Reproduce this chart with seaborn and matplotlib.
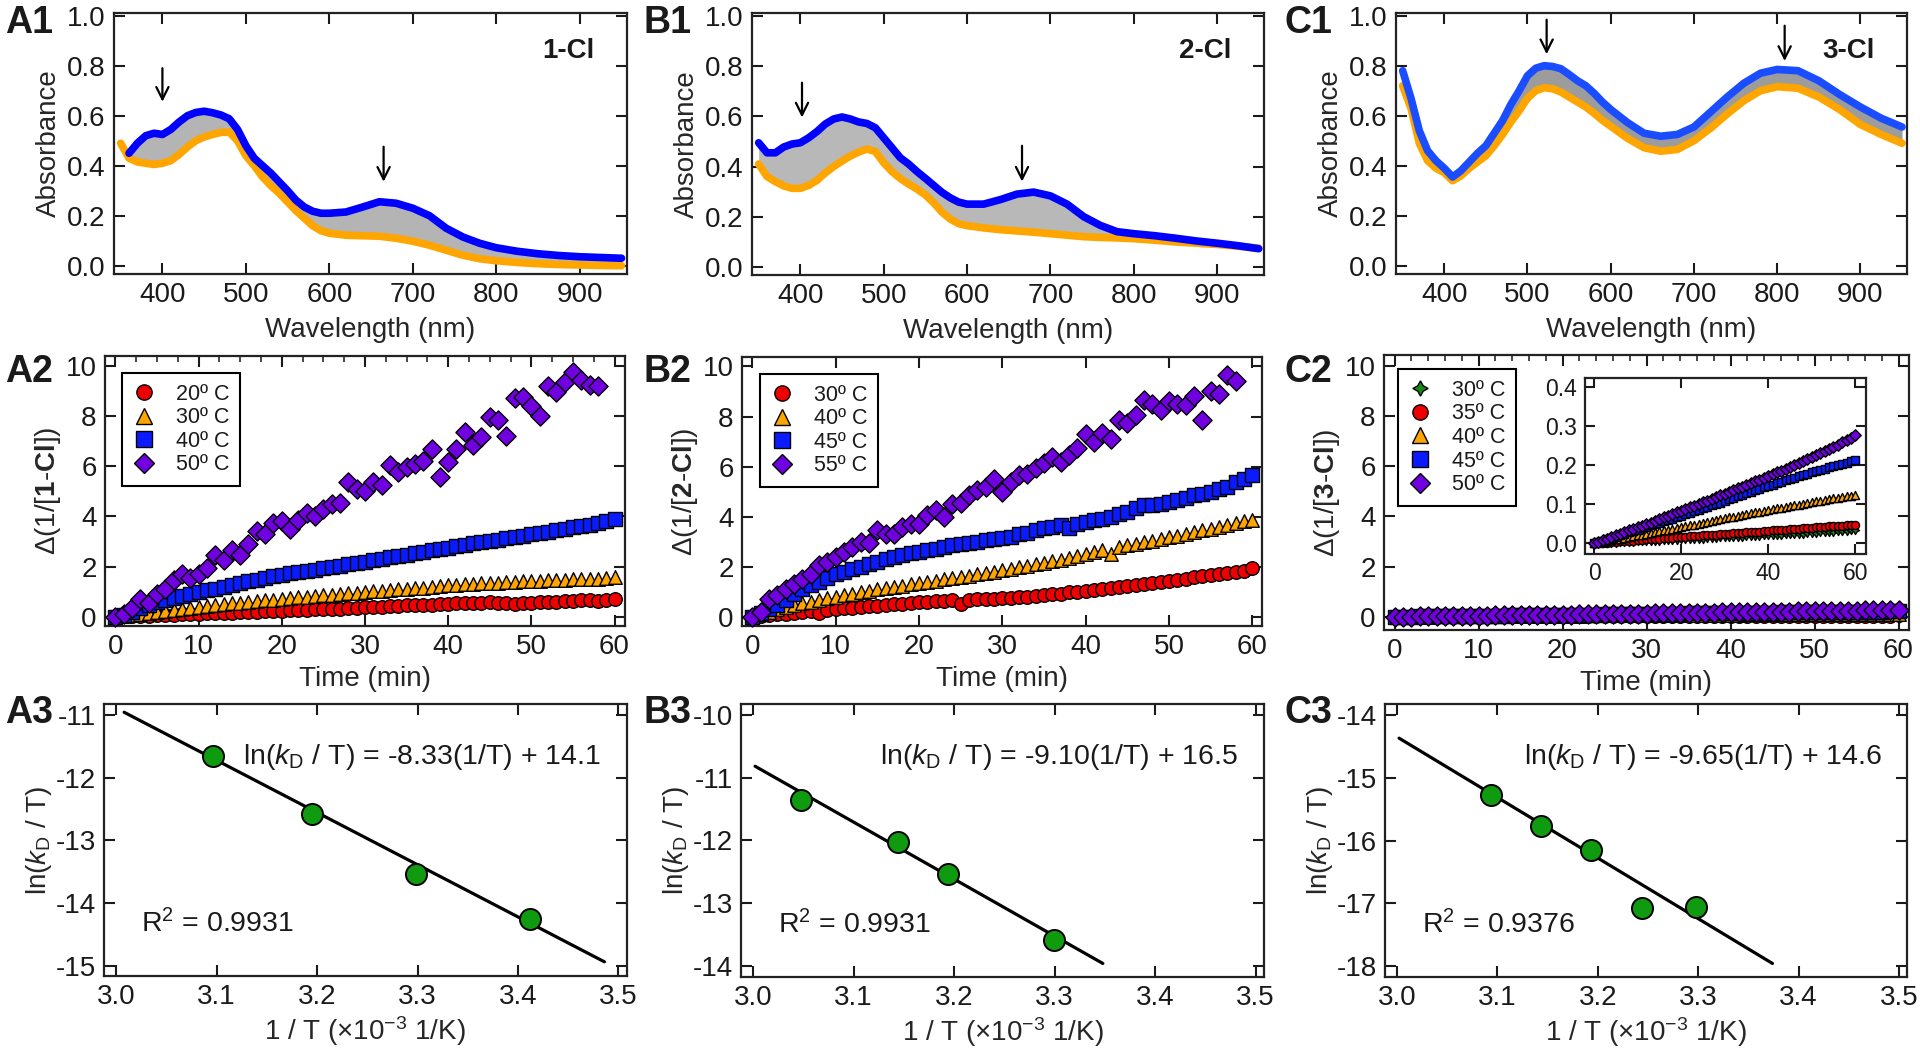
import numpy as np
import pandas as pd
import matplotlib
matplotlib.use('Agg')
import matplotlib.pyplot as plt
import seaborn as sns
from matplotlib.lines import Line2D
from matplotlib.ticker import MultipleLocator, FormatStrFormatter

sns.set_theme(style='ticks')
plt.rcParams['font.family'] = ['Liberation Sans', 'DejaVu Sans']
plt.rcParams['mathtext.fontset'] = 'custom'
plt.rcParams['mathtext.rm'] = 'Liberation Sans'
plt.rcParams['mathtext.it'] = 'Liberation Sans:italic'
plt.rcParams['mathtext.bf'] = 'Liberation Sans:bold'
plt.rcParams['axes.unicode_minus'] = False
plt.rcParams['text.color'] = '#1a1a1a'

# ---------------- UV-vis spectra (row 1) ----------------
wavelength = [350, 360, 370, 380, 390, 400, 410, 420, 430, 440, 450, 460, 470, 480, 490,
              500, 510, 520, 530, 540, 550, 560, 570, 580, 590, 600, 620, 640, 660, 680,
              700, 720, 740, 760, 780, 800, 825, 850, 875, 900, 925, 950]

a1_start = [np.nan, 0.45, 0.49, 0.52, 0.53, 0.525, 0.545, 0.575, 0.60, 0.613, 0.618, 0.612, 0.603, 0.588, 0.545,
            0.48, 0.43, 0.40, 0.37, 0.335, 0.30, 0.262, 0.235, 0.218, 0.21, 0.21, 0.215, 0.235, 0.256, 0.25,
            0.23, 0.20, 0.15, 0.115, 0.09, 0.072, 0.058, 0.048, 0.041, 0.036, 0.033, 0.03]
a1_end = [0.49, 0.43, 0.415, 0.41, 0.405, 0.41, 0.42, 0.445, 0.475, 0.50, 0.515, 0.525, 0.533, 0.535, 0.50,
          0.44, 0.40, 0.355, 0.32, 0.29, 0.255, 0.22, 0.19, 0.16, 0.14, 0.13, 0.122, 0.12, 0.118, 0.11,
          0.098, 0.082, 0.062, 0.042, 0.028, 0.02, 0.013, 0.008, 0.005, 0.003, 0.001, 0.0]

b1_start = [0.495, 0.455, 0.455, 0.478, 0.49, 0.495, 0.515, 0.54, 0.57, 0.59, 0.598, 0.59, 0.578, 0.572, 0.555,
            0.515, 0.475, 0.435, 0.41, 0.38, 0.353, 0.325, 0.297, 0.275, 0.258, 0.25, 0.25, 0.268, 0.29, 0.298,
            0.283, 0.25, 0.20, 0.165, 0.14, 0.132, 0.124, 0.114, 0.103, 0.094, 0.084, 0.072]
b1_end = [0.41, 0.36, 0.34, 0.323, 0.313, 0.313, 0.325, 0.345, 0.375, 0.40, 0.422, 0.442, 0.458, 0.47, 0.46,
          0.415, 0.38, 0.352, 0.33, 0.31, 0.287, 0.255, 0.218, 0.19, 0.172, 0.164, 0.155, 0.148, 0.143, 0.138,
          0.132, 0.126, 0.12, 0.117, 0.115, 0.112, 0.106, 0.099, 0.094, 0.089, 0.082, 0.074]

c1_start = [0.78, 0.67, 0.54, 0.46, 0.42, 0.39, 0.355, 0.38, 0.415, 0.45, 0.48, 0.53, 0.58, 0.645, 0.70,
            0.76, 0.79, 0.80, 0.797, 0.788, 0.765, 0.74, 0.72, 0.69, 0.655, 0.625, 0.573, 0.53, 0.518, 0.525,
            0.555, 0.615, 0.675, 0.73, 0.77, 0.785, 0.78, 0.74, 0.685, 0.635, 0.59, 0.555]
c1_end = [0.72, 0.63, 0.49, 0.42, 0.39, 0.372, 0.34, 0.36, 0.39, 0.415, 0.44, 0.48, 0.525, 0.575, 0.62,
          0.67, 0.70, 0.712, 0.708, 0.695, 0.675, 0.655, 0.635, 0.61, 0.582, 0.558, 0.51, 0.472, 0.458, 0.465,
          0.50, 0.55, 0.607, 0.66, 0.70, 0.716, 0.71, 0.675, 0.625, 0.565, 0.525, 0.49]

# arrows: (wavelength, from absorbance, to absorbance)
a1_arrows = [(400, 0.79, 0.656), (665, 0.476, 0.336)]
b1_arrows = [(402, 0.735, 0.596), (666, 0.483, 0.34)]
c1_arrows = [(523, 0.984, 0.846), (809, 0.96, 0.819)]

# ---------------- second-order kinetics (row 2) ----------------
time_min = list(range(61))

a2_labels = ['20\u00ba C', '30\u00ba C', '40\u00ba C', '50\u00ba C']
a2_20 = [0.00, 0.01, 0.02, 0.03, 0.03, 0.05, 0.06, 0.08, 0.09, 0.10, 0.12, 0.13, 0.14, 0.15, 0.16, 0.18, 0.19, 0.20, 0.21, 0.23,
         0.24, 0.25, 0.26, 0.27, 0.29, 0.30, 0.31, 0.30, 0.34, 0.36, 0.38, 0.39, 0.40, 0.42, 0.43, 0.45, 0.46, 0.47, 0.48, 0.50,
         0.51, 0.53, 0.54, 0.55, 0.56, 0.57, 0.55, 0.53, 0.50, 0.54, 0.55, 0.57, 0.58, 0.60, 0.62, 0.64, 0.66, 0.67, 0.64, 0.68,
         0.70]
a2_30 = [0.00, 0.04, 0.08, 0.12, 0.16, 0.20, 0.24, 0.28, 0.32, 0.36, 0.40, 0.43, 0.47, 0.50, 0.53, 0.56, 0.59, 0.62, 0.65, 0.68,
         0.72, 0.74, 0.77, 0.80, 0.82, 0.85, 0.88, 0.90, 0.93, 0.96, 0.99, 1.01, 1.04, 1.06, 1.09, 1.11, 1.14, 1.16, 1.19, 1.22,
         1.25, 1.27, 1.29, 1.31, 1.33, 1.34, 1.36, 1.38, 1.40, 1.41, 1.43, 1.44, 1.45, 1.47, 1.48, 1.49, 1.50, 1.51, 1.52, 1.54,
         1.58]
a2_40 = [0.00, 0.08, 0.20, 0.33, 0.46, 0.58, 0.66, 0.74, 0.82, 0.90, 0.98, 1.05, 1.12, 1.20, 1.27, 1.35, 1.42, 1.48, 1.55, 1.62,
         1.68, 1.73, 1.78, 1.83, 1.88, 1.93, 1.98, 2.03, 2.09, 2.14, 2.20, 2.26, 2.32, 2.37, 2.42, 2.47, 2.53, 2.58, 2.64, 2.69,
         2.75, 2.81, 2.87, 2.92, 2.97, 3.02, 3.07, 3.13, 3.18, 3.23, 3.29, 3.34, 3.39, 3.45, 3.50, 3.56, 3.62, 3.67, 3.73, 3.82,
         3.88]
a2_50 = [0.00, 0.10, 0.35, 0.70, 0.55, 0.90, 1.10, 1.45, 1.70, 1.55, 1.70, 1.95, 2.45, 2.25, 2.65, 2.45, 2.90, 3.40, 3.30, 3.75,
         3.80, 3.50, 3.85, 4.15, 4.00, 4.30, 4.50, 4.55, 5.35, 5.10, 5.00, 5.35, 5.25, 6.05, 5.75, 5.95, 6.10, 6.20, 6.70, 5.55,
         6.15, 6.70, 7.35, 6.85, 7.15, 7.95, 7.85, 7.20, 8.70, 8.75, 8.40, 8.00, 9.20, 8.95, 9.35, 9.75, 9.45, 9.25, 9.20]

b2_labels = ['30\u00ba C', '40\u00ba C', '45\u00ba C', '55\u00ba C']
b2_30 = [0.00, 0.03, 0.06, 0.09, 0.12, 0.15, 0.18, 0.21, 0.16, 0.26, 0.30, 0.33, 0.36, 0.38, 0.41, 0.44, 0.47, 0.50, 0.52, 0.55,
         0.58, 0.60, 0.62, 0.64, 0.66, 0.50, 0.68, 0.70, 0.71, 0.72, 0.74, 0.76, 0.78, 0.80, 0.83, 0.86, 0.89, 0.92, 0.97, 0.99,
         1.03, 1.07, 1.11, 1.15, 1.19, 1.23, 1.27, 1.31, 1.35, 1.39, 1.43, 1.48, 1.52, 1.57, 1.62, 1.67, 1.72, 1.76, 1.80, 1.84,
         1.93]
b2_40 = [0.00, 0.10, 0.20, 0.30, 0.38, 0.46, 0.53, 0.60, 0.67, 0.73, 0.80, 0.86, 0.92, 0.98, 1.04, 1.09, 1.14, 1.19, 1.24, 1.29,
         1.34, 1.39, 1.44, 1.49, 1.54, 1.59, 1.64, 1.70, 1.75, 1.80, 1.86, 1.92, 1.98, 2.04, 2.10, 2.16, 2.22, 2.28, 2.34, 2.42,
         2.52, 2.60, 2.68, 2.52, 2.80, 2.86, 2.92, 2.98, 3.04, 3.10, 3.17, 3.24, 3.31, 3.38, 3.45, 3.52, 3.59, 3.66, 3.73, 3.82,
         3.88]
b2_45 = [0.00, 0.15, 0.30, 0.45, 0.65, 0.90, 1.10, 1.25, 1.40, 1.55, 1.70, 1.80, 1.90, 2.00, 2.10, 2.20, 2.30, 2.40, 2.45, 2.55,
         2.60, 2.65, 2.72, 2.80, 2.85, 2.90, 2.95, 3.00, 3.05, 3.10, 3.15, 3.20, 3.30, 3.35, 3.45, 3.55, 3.60, 3.65, 3.55, 3.70,
         3.80, 3.85, 3.90, 4.00, 4.10, 4.20, 4.35, 4.45, 4.45, 4.50, 4.60, 4.65, 4.75, 4.85, 4.90, 5.00, 5.10, 5.20, 5.40, 5.50,
         5.65]
b2_55 = [0.00, 0.20, 0.70, 0.85, 1.10, 1.30, 1.50, 1.70, 2.05, 2.20, 2.40, 2.60, 2.80, 3.00, 2.95, 3.45, 3.30, 3.30, 3.60, 3.70,
         3.70, 4.05, 4.25, 4.00, 4.50, 4.55, 4.85, 5.05, 5.20, 5.50, 5.00, 5.40, 5.65, 5.70, 5.95, 6.15, 6.40, 6.20, 6.45, 6.75,
         7.30, 7.00, 7.35, 7.10, 7.85, 7.75, 8.05, 8.65, 8.50, 8.25, 8.60, 8.50, 8.45, 8.80, 7.85, 9.00, 8.90, 9.65, 9.40]

c2_labels = ['30\u00ba C', '35\u00ba C', '40\u00ba C', '45\u00ba C', '50\u00ba C']
c2_30 = [0.000, 0.000, 0.001, 0.001, 0.002, 0.002, 0.003, 0.003, 0.004, 0.004, 0.005, 0.005, 0.006, 0.006, 0.007, 0.007,
         0.008, 0.008, 0.009, 0.009, 0.010, 0.010, 0.011, 0.011, 0.012, 0.012, 0.013, 0.013, 0.014, 0.015, 0.015, 0.016,
         0.016, 0.017, 0.017, 0.018, 0.018, 0.019, 0.019, 0.020, 0.020, 0.021, 0.021, 0.022, 0.023, 0.023, 0.024, 0.024,
         0.025, 0.026, 0.026, 0.027, 0.028, 0.028, 0.029, 0.030, 0.031, 0.031, 0.032, 0.033, 0.034]
c2_35 = [0.000, 0.001, 0.002, 0.002, 0.003, 0.004, 0.005, 0.006, 0.006, 0.007, 0.008, 0.009, 0.010, 0.010, 0.011, 0.012,
         0.013, 0.014, 0.014, 0.015, 0.016, 0.017, 0.018, 0.018, 0.019, 0.020, 0.021, 0.022, 0.022, 0.023, 0.024, 0.025,
         0.026, 0.026, 0.027, 0.028, 0.029, 0.030, 0.030, 0.031, 0.032, 0.033, 0.034, 0.034, 0.035, 0.036, 0.037, 0.037,
         0.038, 0.039, 0.040, 0.041, 0.041, 0.042, 0.043, 0.044, 0.044, 0.045, 0.046, 0.047, 0.048]
c2_40 = [0.000, 0.002, 0.004, 0.006, 0.008, 0.010, 0.012, 0.014, 0.016, 0.018, 0.020, 0.022, 0.024, 0.026, 0.029, 0.031,
         0.033, 0.035, 0.037, 0.039, 0.041, 0.044, 0.046, 0.048, 0.050, 0.053, 0.055, 0.057, 0.059, 0.061, 0.064, 0.066,
         0.068, 0.070, 0.072, 0.074, 0.077, 0.079, 0.081, 0.083, 0.085, 0.087, 0.089, 0.091, 0.093, 0.095, 0.097, 0.099,
         0.101, 0.103, 0.105, 0.107, 0.109, 0.111, 0.113, 0.115, 0.116, 0.118, 0.120, 0.122, 0.124]
c2_45 = [0.000, 0.003, 0.007, 0.010, 0.014, 0.017, 0.021, 0.024, 0.028, 0.031, 0.035, 0.039, 0.042, 0.046, 0.049, 0.053,
         0.056, 0.060, 0.063, 0.067, 0.071, 0.074, 0.078, 0.082, 0.085, 0.089, 0.093, 0.097, 0.101, 0.104, 0.108, 0.112,
         0.116, 0.120, 0.124, 0.128, 0.131, 0.135, 0.139, 0.143, 0.147, 0.150, 0.154, 0.157, 0.161, 0.164, 0.168, 0.171,
         0.174, 0.178, 0.181, 0.184, 0.188, 0.191, 0.194, 0.197, 0.200, 0.203, 0.206, 0.210, 0.213]
c2_50 = [0.000, 0.004, 0.008, 0.012, 0.017, 0.021, 0.025, 0.029, 0.033, 0.037, 0.041, 0.045, 0.049, 0.053, 0.058, 0.062,
         0.066, 0.070, 0.074, 0.079, 0.083, 0.087, 0.092, 0.096, 0.100, 0.105, 0.109, 0.114, 0.118, 0.123, 0.127, 0.132,
         0.136, 0.141, 0.145, 0.150, 0.154, 0.159, 0.163, 0.168, 0.172, 0.177, 0.182, 0.186, 0.191, 0.196, 0.201, 0.206,
         0.211, 0.216, 0.221, 0.226, 0.231, 0.236, 0.241, 0.247, 0.252, 0.258, 0.264, 0.270, 0.277]

# ---------------- Eyring plots (row 3) ----------------
a3_invT = [3.096, 3.195, 3.299, 3.412]
a3_lnk = [-11.65, -12.58, -13.54, -14.26]
b3_invT = [3.048, 3.144, 3.194, 3.299]
b3_lnk = [-11.35, -12.02, -12.54, -13.60]
c3_invT = [3.094, 3.143, 3.193, 3.244, 3.298]
c3_lnk = [-15.27, -15.77, -16.15, -17.07, -17.06]
fit_slope = [-8.33, -9.10, -9.65]
fit_intercept = [14.1, 16.5, 14.6]
fit_range = [(3.008, 3.486), (3.002, 3.348), (3.002, 3.374)]
r_squared = ['0.9931', '0.9931', '0.9376']

# marker styles
red, orange, blue, purple, green = '#ee0000', '#ffa500', '#0a1cff', '#7000e0', '#138a13'
star4 = (4, 1, 0)
FS = 20

fig = plt.figure(figsize=(19.2, 10.51), dpi=100)


def rect(l, t, r, b):
    return [l / 1920, 1 - b / 1051, (r - l) / 1920, (b - t) / 1051]


def style(ax, size=FS, length=8):
    ax.tick_params(which='major', direction='in', top=True, right=True, length=length, width=1.5,
                   labelsize=size, pad=6, colors='#1a1a1a')
    ax.tick_params(which='minor', direction='in', top=True, bottom=False, left=False, right=False,
                   length=4, width=1.2)
    for s in ax.spines.values():
        s.set_linewidth(1.6)
        s.set_color('#222222')


def spectrum(ax, start, end, start_col, band_col, arrows, tag):
    ax.fill_between(wavelength, end, start, color=band_col, lw=0, zorder=1)
    sns.lineplot(x=wavelength, y=end, ax=ax, color=orange, lw=5.5, zorder=2)
    sns.lineplot(x=wavelength, y=start, ax=ax, color=start_col, lw=5.5, zorder=3)
    for x, y0, y1 in arrows:
        ax.annotate('', xy=(x, y1), xytext=(x, y0),
                    arrowprops=dict(arrowstyle='->', color='black', lw=1.6, mutation_scale=22,
                                    shrinkA=0, shrinkB=0))
    ax.text(0.937, 0.855, tag, transform=ax.transAxes, ha='right', va='center',
            fontsize=20, fontweight='bold')
    ax.set_xlim(342, 956)
    ax.set_ylim(-0.033, 1.012)
    ax.xaxis.set_major_locator(MultipleLocator(100))
    ax.yaxis.set_major_locator(MultipleLocator(0.2))
    ax.yaxis.set_major_formatter(FormatStrFormatter('%.1f'))
    ax.set_xlabel('Wavelength (nm)', fontsize=FS, labelpad=6)
    ax.set_ylabel('Absorbance', fontsize=FS, labelpad=4)
    style(ax)


def kinetics(ax, series, markers, colors, s=95):
    for vals, m, c in zip(series, markers, colors):
        sns.scatterplot(x=time_min[:len(vals)], y=vals, ax=ax, marker=m, color=c,
                        edgecolor='black', linewidth=1.0, s=s, legend=False, zorder=3, clip_on=False)


def kin_legend(ax, labels, markers, colors, anchor):
    handles = [Line2D([], [], ls='none', marker=m, markerfacecolor=c, markeredgecolor='black',
                      markeredgewidth=1.0, markersize=11 if m != 'D' else 10)
               for m, c in zip(markers, colors)]
    leg = ax.legend(handles, labels, loc='upper left', bbox_to_anchor=anchor, borderaxespad=0,
                    fontsize=15.5, handlelength=1.0, handletextpad=1.0, labelspacing=0.12,
                    borderpad=0.5, fancybox=False, framealpha=1)
    leg.get_frame().set_edgecolor('black')
    leg.get_frame().set_linewidth(1.5)


def kin_axes(ax, compound, ylim):
    ax.set_xlim(-1.25, 61.2)
    ax.set_ylim(*ylim)
    ax.xaxis.set_major_locator(MultipleLocator(10))
    ax.yaxis.set_major_locator(MultipleLocator(2))
    ax.set_xlabel('Time (min)', fontsize=FS, labelpad=4)
    ax.set_ylabel('\u0394(1/[$\\mathbf{' + compound + '}$-$\\mathbf{Cl}$])', fontsize=FS, labelpad=2)
    style(ax)


def eyring(ax, invT, lnk, k, ylim):
    x0, x1 = fit_range[k]
    sns.lineplot(x=[x0, x1], y=[fit_slope[k] * x0 + fit_intercept[k], fit_slope[k] * x1 + fit_intercept[k]],
                 ax=ax, color='black', lw=2.3, zorder=2)
    sns.scatterplot(x=invT, y=lnk, ax=ax, color='#109a10', edgecolor='black', linewidth=1.4,
                    s=230, legend=False, zorder=3)
    eq = 'ln($k_{\\mathrm{D}}$ / T) = %.2f(1/T) + %.1f' % (fit_slope[k], fit_intercept[k])
    ax.text(0.266, 0.806, eq, transform=ax.transAxes, fontsize=20.5, va='center', ha='left')
    ax.text(0.071, 0.191, 'R$^{2}$ = ' + r_squared[k], transform=ax.transAxes, fontsize=20.5,
            va='center', ha='left')
    ax.set_xlim(2.988, 3.508)
    ax.set_ylim(*ylim)
    ax.xaxis.set_major_locator(MultipleLocator(0.1))
    ax.xaxis.set_major_formatter(FormatStrFormatter('%.1f'))
    ax.yaxis.set_major_locator(MultipleLocator(1))
    ax.set_xlabel('1 / T (\u00d710$^{-3}$ 1/K)', fontsize=FS, labelpad=3)
    ax.set_ylabel('ln($k_{\\mathrm{D}}$ / T)', fontsize=FS, labelpad=1)
    style(ax)


# ---- row 1
ax = fig.add_axes(rect(114, 12.7, 626.5, 274))
spectrum(ax, a1_start, a1_end, '#0000ff', '#b4b4b4', a1_arrows, '1-Cl')
ax = fig.add_axes(rect(752, 13.3, 1263.7, 275))
spectrum(ax, b1_start, b1_end, '#0000ff', '#b8b8b8', b1_arrows, '2-Cl')
ax = fig.add_axes(rect(1396, 12.7, 1907, 274))
spectrum(ax, c1_start, c1_end, '#1a4dff', '#9c9c9c', c1_arrows, '3-Cl')

# ---- row 2
mk4 = ['o', '^', 's', 'D']
col4 = [red, orange, blue, purple]
ax = fig.add_axes(rect(105, 356, 624.5, 626))
kinetics(ax, [a2_20, a2_30, a2_40, a2_50], mk4, col4)
kin_axes(ax, '1', (-0.37, 10.39))
ax.xaxis.set_minor_locator(MultipleLocator(2.5))
kin_legend(ax, a2_labels, mk4, col4, (0.033, 0.938))

ax = fig.add_axes(rect(742, 356.7, 1262.4, 626))
kinetics(ax, [b2_30, b2_40, b2_45, b2_55], mk4, col4)
kin_axes(ax, '2', (-0.37, 10.39))
kin_legend(ax, b2_labels, mk4, col4, (0.035, 0.936))

mk5 = [star4, 'o', '^', 's', 'D']
col5 = [green, red, orange, blue, purple]
c2_series = [c2_30, c2_35, c2_40, c2_45, c2_50]
ax = fig.add_axes(rect(1384, 355, 1908.6, 630))
kinetics(ax, c2_series, mk5, col5)
kin_axes(ax, '3', (-0.53, 10.43))
ax.xaxis.set_minor_locator(MultipleLocator(2))
kin_legend(ax, c2_labels, mk5, col5, (0.027, 0.949))

axin = fig.add_axes(rect(1585, 378.5, 1865.5, 553.5))
kinetics(axin, c2_series, mk5, col5, s=34)
axin.set_xlim(-2.07, 62.35)
axin.set_ylim(-0.026, 0.421)
axin.xaxis.set_major_locator(MultipleLocator(20))
axin.yaxis.set_major_locator(MultipleLocator(0.1))
axin.yaxis.set_major_formatter(FormatStrFormatter('%.1f'))
axin.set_xlabel('')
axin.set_ylabel('')
style(axin, size=16.5, length=7)

# ---- row 3
ax = fig.add_axes(rect(104, 704, 626.5, 976))
eyring(ax, a3_invT, a3_lnk, 0, (-15.165, -10.825))
ax = fig.add_axes(rect(741, 704, 1263.7, 976.7))
eyring(ax, b3_invT, b3_lnk, 1, (-14.178, -9.825))
ax = fig.add_axes(rect(1385, 704, 1907, 976.7))
eyring(ax, c3_invT, c3_lnk, 2, (-18.17, -13.825))

# ---- panel letters
for txt, x, yb in [('A1', 5, 33.3), ('B1', 643, 33.3), ('C1', 1285, 33.3),
                   ('A2', 5, 381.7), ('B2', 643, 381.7), ('C2', 1285, 381.7),
                   ('A3', 5, 723.3), ('B3', 643, 723.3), ('C3', 1285, 723.3)]:
    fig.text(x / 1920, 1 - yb / 1051, txt, fontsize=27, fontweight='bold', ha='left', va='baseline')

fig.savefig('out.png', dpi=100, facecolor='white')
